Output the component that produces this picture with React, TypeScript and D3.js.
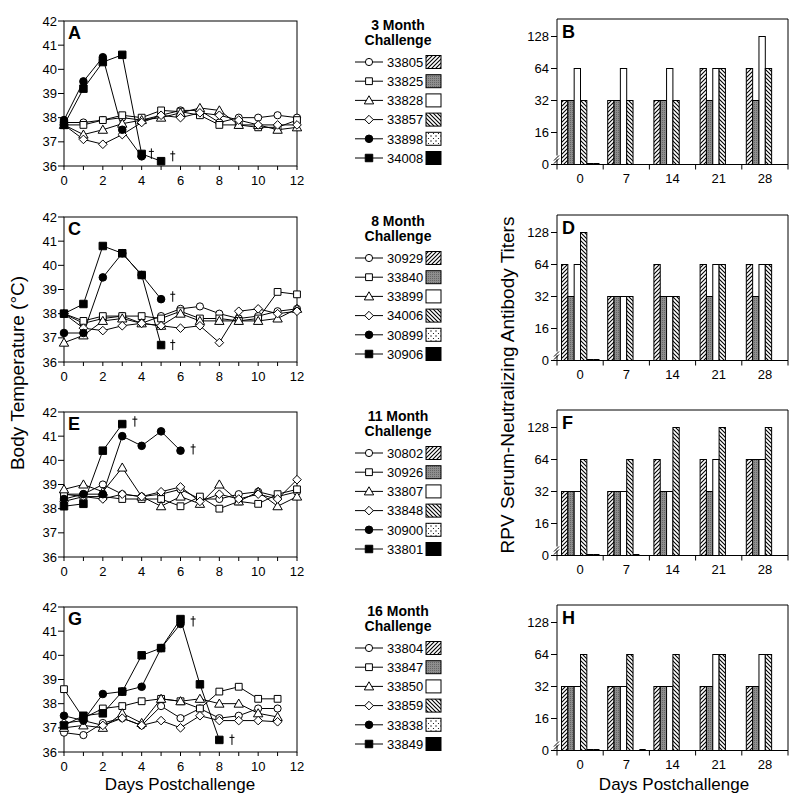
import React from "react";
import * as d3 from "d3";

const FONT = "'Liberation Sans', Arial, Helvetica, sans-serif";

// ---------- shared tick / category data ----------
const tempDays = [0, 1, 2, 3, 4, 5, 6, 7, 8, 9, 10, 11, 12];
const tempXTickLabels = [0, 2, 4, 6, 8, 10, 12];
const tempYTicks = [36, 37, 38, 39, 40, 41, 42];
const titerDays = ["0", "7", "14", "21", "28"];
const titerTicks = [8, 16, 32, 64, 128];
const titerTickLabels = ["0", "16", "32", "64", "128"];

const panelLetters = ["A", "C", "E", "G"];
const barLetters = ["B", "D", "F", "H"];
const challengeLabels = ["3 Month", "8 Month", "11 Month", "16 Month"];

const animalIds3 = ["33805", "33825", "33828", "33857", "33898", "34008"];
const animalIds8 = ["30929", "33840", "33899", "34006", "30899", "30906"];
const animalIds11 = ["30802", "30926", "33807", "33848", "30900", "33801"];
const animalIds16 = ["33804", "33847", "33850", "33859", "33838", "33849"];

const markerKinds = ["circle", "square", "triangle", "diamond", "fcircle", "fsquare"];
const fillKinds = ["hatchR", "grey", "white", "hatchL", "dots", "black"];

// ---------- body temperature (days 0..12) ----------
const temp3 = [
  [37.8, 37.8, 37.9, 38.0, 37.9, 38.1, 38.3, 38.3, 37.8, 38.0, 38.0, 38.1, 38.0],
  [37.7, 37.7, 37.9, 38.1, 38.0, 38.3, 38.25, 38.1, 37.7, 37.7, 37.6, 37.6, 37.9],
  [37.7, 37.3, 37.5, 37.75, 37.9, 38.0, 38.2, 38.4, 38.3, 37.7, 37.7, 37.5, 37.6],
  [37.7, 37.1, 36.9, 37.3, 37.8, 38.1, 38.0, 38.2, 38.1, 37.9, 37.7, 37.7, 37.7],
  [37.9, 39.5, 40.5, 37.5, 36.4],
  [37.7, 39.2, 40.3, 40.6, 36.5, 36.2],
];
const temp8 = [
  [38.0, 37.6, 37.8, 37.9, 37.6, 37.9, 38.2, 38.3, 38.0, 37.8, 37.9, 38.1, 38.2],
  [38.0, 37.7, 37.9, 37.9, 37.9, 37.8, 38.1, 37.8, 37.8, 37.7, 37.8, 38.9, 38.8],
  [36.8, 37.1, 37.7, 37.8, 37.6, 37.5, 38.0, 37.7, 37.7, 37.7, 37.7, 37.8, 38.2],
  [38.0, 37.4, 37.3, 37.5, 37.6, 37.5, 37.4, 37.5, 36.8, 38.1, 38.2, 38.0, 38.1],
  [37.2, 37.2, 39.5, 40.5, 39.6, 38.6],
  [38.0, 38.4, 40.8, 40.5, 39.6, 36.7],
];
const temp11 = [
  [38.6, 38.6, 39.0, 38.6, 38.5, 38.6, 38.8, 38.4, 38.4, 38.6, 38.7, 38.5, 38.7],
  [38.6, 38.5, 38.5, 38.4, 38.4, 38.4, 38.1, 38.5, 38.0, 38.3, 38.2, 38.6, 38.8],
  [38.8, 39.0, 38.7, 39.7, 38.5, 38.1, 38.5, 38.2, 39.0, 38.3, 38.7, 38.1, 38.5],
  [38.3, 38.5, 38.4, 38.6, 38.5, 38.7, 38.9, 38.3, 38.6, 38.4, 38.6, 38.4, 39.2],
  [38.4, 38.6, 38.6, 41.0, 40.6, 41.2, 40.4],
  [38.1, 38.2, 40.4, 41.5],
];
const temp16 = [
  [36.8, 36.7, 37.2, 37.4, 37.1, 37.9, 37.4, 37.8, 37.4, 37.5, 37.8, 37.8],
  [38.6, 37.4, 37.8, 37.9, 38.1, 38.2, 38.1, 37.8, 38.5, 38.7, 38.2, 38.2],
  [37.0, 37.1, 37.0, 37.6, 37.2, 38.2, 38.1, 38.2, 38.0, 38.0, 37.6, 37.45],
  [37.2, 37.3, 37.1, 37.4, 37.1, 37.3, 37.0, 37.5, 37.3, 37.3, 37.3, 37.25],
  [37.5, 37.3, 38.4, 38.5, 38.7, 40.3, 41.3],
  [37.1, 37.5, 37.6, 38.5, 40.0, 40.3, 41.5, 38.8, 36.5],
];

// death markers (day, temperature)
const deaths3 = [[4.5, 36.5], [5.6, 36.4]];
const deaths8 = [[5.6, 38.7], [5.6, 36.7]];
const deaths11 = [[3.65, 41.6], [6.65, 40.45]];
const deaths16 = [[6.65, 41.4], [8.65, 36.5]];

// ---------- titers (days 0,7,14,21,28); 0 = below detection, null = not sampled ----------
const titer3 = [
  [32, 32, 32, 64, 64],
  [32, 32, 32, 32, 32],
  [64, 64, 64, 64, 128],
  [32, 32, 32, 64, 64],
  [0, null, null, null, null],
  [0, null, null, null, null],
];
const titer8 = [
  [64, 32, 64, 64, 64],
  [32, 32, 32, 32, 32],
  [64, 32, 32, 64, 64],
  [128, 32, 32, 64, 64],
  [0, null, null, null, null],
  [0, null, null, null, null],
];
const titer11 = [
  [32, 32, 64, 64, 64],
  [32, 32, 32, 32, 64],
  [32, 32, 32, 64, 64],
  [64, 64, 128, 128, 128],
  [0, 0, null, null, null],
  [0, null, null, null, null],
];
const titer16 = [
  [32, 32, 32, 32, 32],
  [32, 32, 32, 32, 32],
  [32, 32, 32, 64, 64],
  [64, 64, 64, 64, 64],
  [0, null, null, null, null],
  [0, 0, null, null, null],
];

const groups = [
  { ids: animalIds3, temps: temp3, deaths: deaths3, titers: titer3 },
  { ids: animalIds8, temps: temp8, deaths: deaths8, titers: titer8 },
  { ids: animalIds11, temps: temp11, deaths: deaths11, titers: titer11 },
  { ids: animalIds16, temps: temp16, deaths: deaths16, titers: titer16 },
];

// ---------- layout ----------
const offsets = [0, 196, 391, 586];
const L = { x0: 64, x1: 297, top: 21, h: 145 };
const B = { x0: 557, x1: 788, top: 19, base: 164.5 };
const LEG = { cx: 398, title1: 30, title2: 45, row0: 62, rowStep: 19.2, lineX0: 355, lineX1: 383, mx: 369, textX: 387, swX: 426, swW: 15, swH: 13 };

function Marker({ kind, x, y }: { kind: string; x: number; y: number }) {
  const open = { fill: "white", stroke: "black", strokeWidth: 1 };
  const filled = { fill: "black", stroke: "black", strokeWidth: 1 };
  const sym = (t: any, s: number) => d3.symbol().type(t).size(s)() as string;
  switch (kind) {
    case "circle":
      return <circle cx={x} cy={y} r={3.6} {...open} />;
    case "square":
      return <path transform={`translate(${x},${y})`} d={sym(d3.symbolSquare, 46)} {...open} />;
    case "triangle":
      return <path transform={`translate(${x},${y + 0.8})`} d={sym(d3.symbolTriangle, 38)} {...open} />;
    case "diamond":
      return <path transform={`translate(${x},${y})`} d="M0,-4.3L4.3,0L0,4.3L-4.3,0Z" {...open} />;
    case "fcircle":
      return <circle cx={x} cy={y} r={3.8} {...filled} />;
    default:
      return <path transform={`translate(${x},${y})`} d={sym(d3.symbolSquare, 56)} {...filled} />;
  }
}

function Dagger({ x, y }: { x: number; y: number }) {
  return (
    <g stroke="black" strokeWidth={1}>
      <line x1={x} x2={x} y1={y - 5.5} y2={y + 5} />
      <line x1={x - 2.5} x2={x + 2.5} y1={y - 2.5} y2={y - 2.5} />
    </g>
  );
}

function TempPanel({ gi }: { gi: number }) {
  const off = offsets[gi];
  const g = groups[gi];
  const top = L.top + off;
  const bottom = top + L.h;
  const x = d3.scaleLinear().domain([0, 12]).range([L.x0, L.x1]);
  const y = d3.scaleLinear().domain([36, 42]).range([bottom, top]);
  const line = d3.line<number>().x((_, i) => x(tempDays[i])).y((d) => y(d));
  return (
    <g>
      <rect x={L.x0} y={top} width={L.x1 - L.x0} height={L.h} fill="none" stroke="black" strokeWidth={1} />
      {tempYTicks.map((t) => (
        <g key={"y" + t}>
          <line x1={L.x0 - 6} x2={L.x0} y1={y(t)} y2={y(t)} stroke="black" />
          <text x={L.x0 - 7} y={y(t) + 4.5} textAnchor="end" fontSize={13} fontFamily={FONT}>{t}</text>
        </g>
      ))}
      {tempDays.map((d) => (
        <line key={"xt" + d} x1={x(d)} x2={x(d)} y1={bottom} y2={bottom + 4} stroke="black" />
      ))}
      {tempXTickLabels.map((d) => (
        <text key={"xl" + d} x={x(d)} y={bottom + 19} textAnchor="middle" fontSize={13} fontFamily={FONT}>{d}</text>
      ))}
      {g.temps.map((s, si) => (
        <path key={"l" + si} d={line(s) as string} fill="none" stroke="black" strokeWidth={1} />
      ))}
      {g.temps.map((s, si) =>
        s.map((v, di) => <Marker key={si + "-" + di} kind={markerKinds[si]} x={x(tempDays[di])} y={y(v)} />)
      )}
      {g.deaths.map((d, i) => (
        <Dagger key={"d" + i} x={x(d[0])} y={y(d[1])} />
      ))}
      <text x={L.x0 + 4} y={top + 18} fontSize={18} fontWeight="bold" fontFamily={FONT}>{panelLetters[gi]}</text>
    </g>
  );
}

function Legend({ gi }: { gi: number }) {
  const off = offsets[gi];
  const g = groups[gi];
  return (
    <g>
      <text x={LEG.cx} y={LEG.title1 + off} textAnchor="middle" fontSize={14} fontWeight="bold" fontFamily={FONT}>{challengeLabels[gi]}</text>
      <text x={LEG.cx} y={LEG.title2 + off} textAnchor="middle" fontSize={14} fontWeight="bold" fontFamily={FONT}>Challenge</text>
      {g.ids.map((id, i) => {
        const cy = LEG.row0 + off + i * LEG.rowStep;
        return (
          <g key={id}>
            <line x1={LEG.lineX0} x2={LEG.lineX1} y1={cy} y2={cy} stroke="black" />
            <Marker kind={markerKinds[i]} x={LEG.mx} y={cy} />
            <text x={LEG.textX} y={cy + 4.7} fontSize={13} fontFamily={FONT}>{id}</text>
            <rect x={LEG.swX} y={cy - LEG.swH / 2} width={LEG.swW} height={LEG.swH} fill={`url(#${fillKinds[i]})`} stroke="black" strokeWidth={1} />
          </g>
        );
      })}
    </g>
  );
}

function TiterPanel({ gi }: { gi: number }) {
  const off = offsets[gi];
  const g = groups[gi];
  const top = B.top + off;
  const base = B.base + off;
  const x0 = d3.scaleBand<string>().domain(titerDays).range([B.x0, B.x1]);
  const x1 = d3.scaleBand<string>().domain(g.ids).range([4.5, 42.5]);
  const y = d3.scaleLog().base(2).domain([8, 128]).range([base, base - 128]);
  const edges = [...titerDays.map((d) => x0(d) as number), B.x1];
  return (
    <g>
      <line x1={B.x0} x2={B.x1} y1={top} y2={top} stroke="black" />
      <line x1={B.x1} x2={B.x1} y1={top} y2={base} stroke="black" />
      {g.titers.map((s, si) =>
        s.map((v, di) => {
          if (v === null) return null;
          const bx = (x0(titerDays[di]) as number) + (x1(g.ids[si]) as number);
          const w = x1.bandwidth();
          if (v === 0) return <rect key={si + "-" + di} x={bx} y={base - 1.5} width={w} height={2} fill="black" />;
          return (
            <rect key={si + "-" + di} x={bx} y={y(v)} width={w} height={base - y(v)} fill={`url(#${fillKinds[si]})`} stroke="black" strokeWidth={1} />
          );
        })
      )}
      <line x1={B.x0} x2={B.x0} y1={top} y2={base} stroke="black" />
      <line x1={B.x0} x2={B.x1} y1={base} y2={base} stroke="black" />
      {titerTicks.map((t, i) => (
        <g key={"t" + t}>
          <line x1={B.x0 - 6} x2={B.x0} y1={y(t)} y2={y(t)} stroke="black" />
          <text x={B.x0 - 8} y={y(t) + 4.5} textAnchor="end" fontSize={13} fontFamily={FONT}>{titerTickLabels[i]}</text>
        </g>
      ))}
      <rect x={B.x0 - 3} y={base - 9} width={6} height={4} fill="white" />
      <line x1={B.x0 - 3} x2={B.x0 + 2} y1={base - 4} y2={base - 9} stroke="black" />
      <line x1={B.x0 - 3} x2={B.x0 + 2} y1={base - 1} y2={base - 6} stroke="black" />
      {edges.map((e, i) => (
        <line key={"e" + i} x1={e} x2={e} y1={base} y2={base + 5} stroke="black" />
      ))}
      {titerDays.map((d) => (
        <text key={"xl" + d} x={(x0(d) as number) + x0.bandwidth() / 2} y={base + 18} textAnchor="middle" fontSize={13} fontFamily={FONT}>{d}</text>
      ))}
      <text x={B.x0 + 5} y={top + 19} fontSize={18} fontWeight="bold" fontFamily={FONT}>{barLetters[gi]}</text>
    </g>
  );
}

export default function App() {
  return (
    <svg width={800} height={805} style={{ position: "absolute", left: 0, top: 0, background: "white" }}>
      <defs>
        <pattern id="hatchR" patternUnits="userSpaceOnUse" width={4} height={4}>
          <rect width={4} height={4} fill="white" />
          <path d="M-1,1 l2,-2 M0,4 l4,-4 M3,5 l2,-2" stroke="black" strokeWidth={1.1} />
        </pattern>
        <pattern id="hatchL" patternUnits="userSpaceOnUse" width={4} height={4}>
          <rect width={4} height={4} fill="white" />
          <path d="M-1,3 l2,2 M0,0 l4,4 M3,-1 l2,2" stroke="black" strokeWidth={1.1} />
        </pattern>
        <pattern id="grey" patternUnits="userSpaceOnUse" width={2} height={2}>
          <rect width={2} height={2} fill="#8e8e8e" />
          <rect width={1} height={1} fill="#666" />
        </pattern>
        <pattern id="white" patternUnits="userSpaceOnUse" width={4} height={4}>
          <rect width={4} height={4} fill="white" />
        </pattern>
        <pattern id="dots" patternUnits="userSpaceOnUse" width={5} height={5}>
          <rect width={5} height={5} fill="white" />
          <circle cx={1} cy={1} r={0.7} fill="black" />
          <circle cx={3.5} cy={3.5} r={0.6} fill="black" />
        </pattern>
        <pattern id="black" patternUnits="userSpaceOnUse" width={4} height={4}>
          <rect width={4} height={4} fill="black" />
        </pattern>
      </defs>
      <rect width={800} height={805} fill="white" />
      {groups.map((_, gi) => (
        <g key={gi}>
          <TempPanel gi={gi} />
          <Legend gi={gi} />
          <TiterPanel gi={gi} />
        </g>
      ))}
      <text transform="translate(24,373) rotate(-90)" textAnchor="middle" fontSize={19} fontFamily={FONT}>Body Temperature (°C)</text>
      <text transform="translate(514,385) rotate(-90)" textAnchor="middle" fontSize={19} fontFamily={FONT}>RPV Serum-Neutralizing Antibody Titers</text>
      <text x={180} y={790} textAnchor="middle" fontSize={17} fontFamily={FONT}>Days Postchallenge</text>
      <text x={674} y={790} textAnchor="middle" fontSize={17} fontFamily={FONT}>Days Postchallenge</text>
    </svg>
  );
}
